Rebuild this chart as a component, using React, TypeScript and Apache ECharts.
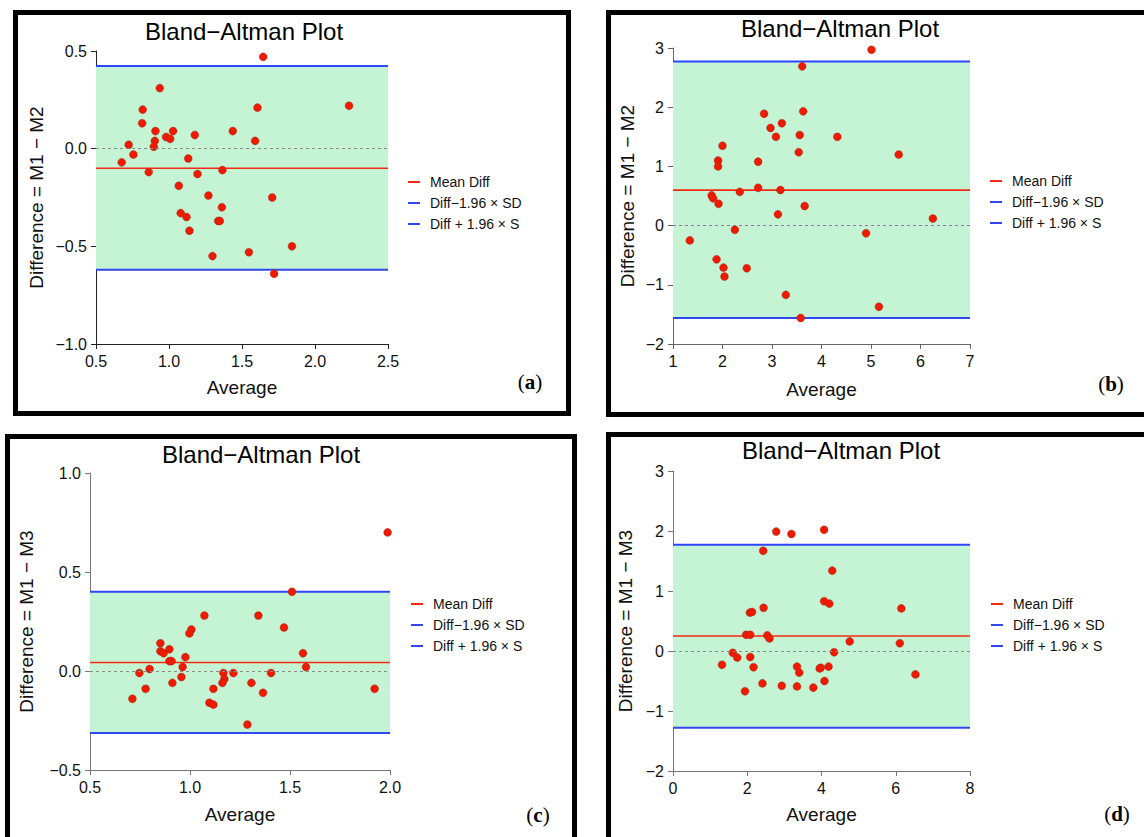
import React, { useEffect, useRef } from "react";
import * as echarts from "echarts";

// ---------- data ----------
const aAverage = [1.645, 0.937, 2.233, 1.606, 0.82, 0.816, 0.907, 1.028, 1.437, 0.98, 1.008, 1.177, 0.903, 1.59, 0.724, 0.896, 0.756, 1.132, 0.676, 0.861, 1.366, 1.195, 1.067, 1.27, 1.707, 1.362, 1.08, 1.12, 1.337, 1.348, 1.14, 1.842, 1.547, 1.298, 1.72];
const aDifference = [0.47, 0.31, 0.22, 0.21, 0.2, 0.13, 0.09, 0.09, 0.09, 0.06, 0.05, 0.07, 0.04, 0.04, 0.02, 0.01, -0.03, -0.05, -0.07, -0.12, -0.11, -0.13, -0.19, -0.24, -0.25, -0.3, -0.33, -0.35, -0.37, -0.37, -0.42, -0.5, -0.53, -0.55, -0.64];

const bAverage = [5.01, 3.61, 3.63, 2.84, 3.2, 2.97, 3.08, 3.56, 4.32, 2.0, 3.54, 5.56, 1.91, 1.91, 2.72, 2.72, 3.17, 2.35, 1.78, 1.81, 1.92, 3.66, 3.12, 6.25, 2.25, 4.9, 1.34, 1.88, 2.02, 2.49, 2.04, 3.28, 5.16, 3.58];
const bDifference = [2.97, 2.69, 1.93, 1.89, 1.73, 1.65, 1.5, 1.53, 1.5, 1.35, 1.24, 1.2, 1.1, 1.0, 1.08, 0.64, 0.6, 0.57, 0.51, 0.46, 0.37, 0.33, 0.19, 0.12, -0.07, -0.13, -0.25, -0.57, -0.71, -0.72, -0.86, -1.17, -1.37, -1.56];

const cAverage = [1.988, 1.51, 1.072, 1.342, 1.47, 1.007, 0.997, 0.852, 0.897, 0.852, 0.868, 1.565, 0.977, 0.897, 0.908, 0.963, 1.58, 0.798, 0.747, 1.167, 1.217, 1.405, 0.957, 1.172, 1.307, 1.162, 0.912, 0.778, 1.117, 1.923, 1.365, 0.712, 1.097, 1.117, 1.287];
const cDifference = [0.7, 0.4, 0.28, 0.28, 0.22, 0.21, 0.19, 0.14, 0.11, 0.1, 0.09, 0.09, 0.07, 0.05, 0.05, 0.02, 0.02, 0.01, -0.01, -0.01, -0.01, -0.01, -0.03, -0.04, -0.06, -0.06, -0.06, -0.09, -0.09, -0.09, -0.11, -0.14, -0.16, -0.17, -0.27];

const dAverage = [2.78, 3.19, 4.07, 2.43, 4.29, 4.07, 4.21, 6.15, 2.44, 2.07, 2.13, 1.97, 2.08, 2.54, 2.6, 4.76, 6.11, 1.61, 4.34, 1.73, 2.08, 1.32, 2.17, 3.34, 3.4, 3.95, 3.98, 4.19, 6.53, 4.08, 2.41, 2.93, 3.34, 3.78, 1.94];
const dDifference = [1.99, 1.95, 2.02, 1.67, 1.34, 0.83, 0.79, 0.71, 0.72, 0.64, 0.65, 0.27, 0.27, 0.26, 0.21, 0.16, 0.13, -0.03, -0.02, -0.11, -0.1, -0.23, -0.27, -0.26, -0.36, -0.29, -0.28, -0.26, -0.39, -0.5, -0.54, -0.58, -0.59, -0.61, -0.67];

const meanDiffs = [-0.1, 0.6, 0.043, 0.25];
const lowerLimits = [-0.62, -1.56, -0.313, -1.28];
const upperLimits = [0.423, 2.77, 0.4, 1.77];

const xMins = [0.5, 1, 0.5, 0];
const xMaxs = [2.5, 7, 2.0, 8];
const xIntervals = [0.5, 1, 0.5, 2];
const yMins = [-1, -2, -0.5, -2];
const yMaxs = [0.5, 3, 1.0, 3];
const yIntervals = [0.5, 1, 0.5, 1];
const xDecimals = [1, 0, 1, 0];
const yDecimals = [1, 0, 1, 0];

const panelLetters = ["a", "b", "c", "d"];
const titleText = "Bland\u2212Altman Plot";
const xAxisName = "Average";
const yAxisNames = [
  "Difference = M1 \u2212 M2",
  "Difference = M1 \u2212 M2",
  "Difference = M1 \u2212 M3",
  "Difference = M1 \u2212 M3",
];
const legendNames = ["Mean Diff", "Diff\u22121.96 \u00d7 SD", "Diff + 1.96 \u00d7 S"];

// ---------- layout ----------
const SANS = "'Liberation Sans', Arial, sans-serif";
const SERIF = "'Liberation Serif', 'Times New Roman', serif";

const grids = [
  { left: 96, top: 51, width: 292, height: 293 },
  { left: 673, top: 48, width: 297, height: 296 },
  { left: 90, top: 473, width: 300, height: 297 },
  { left: 673, top: 471, width: 297, height: 300 },
];
const frames = [
  { x: 15.5, y: 12.5, width: 553, height: 401 },
  { x: 608.5, y: 12.5, width: 600, height: 402 },
  { x: 7.5, y: 436.5, width: 567, height: 500 },
  { x: 608.5, y: 434.5, width: 600, height: 500 },
];
const titlePos = [
  [244, 31],
  [840, 28],
  [261, 454],
  [841, 450],
];
const letterPos = [
  [530, 382],
  [1111, 384],
  [538, 815],
  [1117, 814],
];
const legendPos = [
  [408, 175],
  [990, 174],
  [411, 597],
  [991, 597],
];
const xNameGaps = [34, 36, 35, 34];
const yNameGaps = [50, 36, 54, 38];
const axisColors = ["#222", "#666", "#777", "#777"];
const zeroColors = ["#8a8a8a", "#a070b0", "#8a8a8a", "#8a8a8a"];

const fmt = (v: number, d: number) => (v < 0 ? "\u2212" : "") + Math.abs(v).toFixed(d);

function buildOption() {
  const avgs = [aAverage, bAverage, cAverage, dAverage];
  const diffs = [aDifference, bDifference, cDifference, dDifference];
  const series: any[] = [];
  const xAxis: any[] = [];
  const yAxis: any[] = [];
  const legend: any[] = [];
  const graphic: any[] = [];

  for (let i = 0; i < 4; i++) {
    const xr = [xMins[i], xMaxs[i]];
    xAxis.push({
      type: "value",
      gridIndex: i,
      min: xMins[i],
      max: xMaxs[i],
      interval: xIntervals[i],
      name: xAxisName,
      nameLocation: "middle",
      nameGap: xNameGaps[i],
      nameTextStyle: { fontSize: 19, fontFamily: SANS, color: "#111" },
      axisLine: { onZero: false, lineStyle: { color: axisColors[i], width: 1 } },
      axisTick: { show: true, length: 5, lineStyle: { color: axisColors[i] } },
      axisLabel: {
        fontSize: 16,
        fontFamily: SANS,
        color: "#111",
        margin: 9,
        formatter: (v: number) => fmt(v, xDecimals[i]),
      },
      splitLine: { show: false },
    });
    yAxis.push({
      type: "value",
      gridIndex: i,
      min: yMins[i],
      max: yMaxs[i],
      interval: yIntervals[i],
      name: yAxisNames[i],
      nameLocation: "middle",
      nameRotate: 90,
      nameGap: yNameGaps[i],
      nameTextStyle: { fontSize: 19, fontFamily: SANS, color: "#111" },
      axisLine: { show: true, onZero: false, lineStyle: { color: axisColors[i], width: 1 } },
      axisTick: { show: true, length: 5, lineStyle: { color: axisColors[i] } },
      axisLabel: {
        fontSize: 16,
        fontFamily: SANS,
        color: "#111",
        margin: 9,
        formatter: (v: number) => fmt(v, yDecimals[i]),
      },
      splitLine: { show: false },
    });

    // band + zero line
    series.push({
      type: "line",
      xAxisIndex: i,
      yAxisIndex: i,
      data: [
        [xr[0], meanDiffs[i]],
        [xr[1], meanDiffs[i]],
      ],
      showSymbol: false,
      silent: true,
      lineStyle: { opacity: 0, width: 0 },
      z: 1,
      markArea: {
        silent: true,
        itemStyle: { color: "#c4f4d4" },
        data: [[{ yAxis: lowerLimits[i] }, { yAxis: upperLimits[i] }]],
      },
      markLine: {
        silent: true,
        symbol: ["none", "none"],
        label: { show: false },
        lineStyle: { color: zeroColors[i], type: [3, 3], width: 1 },
        data: [{ yAxis: 0 }],
      },
    });
    const lineVals = [meanDiffs[i], lowerLimits[i], upperLimits[i]];
    const lineCols = ["#f42a10", "#3048ee", "#2f45ff"];
    const lineWidths = [1.6, 2, 2];
    for (let k = 0; k < 3; k++) {
      series.push({
        type: "line",
        name: legendNames[k],
        xAxisIndex: i,
        yAxisIndex: i,
        data: [
          [xr[0], lineVals[k]],
          [xr[1], lineVals[k]],
        ],
        showSymbol: false,
        silent: true,
        color: lineCols[k],
        lineStyle: { color: lineCols[k], width: lineWidths[k] },
        z: 3,
      });
    }
    series.push({
      type: "scatter",
      xAxisIndex: i,
      yAxisIndex: i,
      data: avgs[i].map((x, j) => [x, diffs[i][j]]),
      symbolSize: 8,
      itemStyle: {
        color: "#f01a00",
        opacity: 1,
        borderColor: "rgba(120,50,30,0.55)",
        borderWidth: 0.6,
      },
      z: 4,
    });

    legend.push({
      data: legendNames,
      orient: "vertical",
      left: legendPos[i][0],
      top: legendPos[i][1],
      icon: "path://M0,0H12V2H0ZM17,1L17,1",
      itemWidth: 17,
      itemHeight: 2,
      itemGap: 7,
      padding: 0,
      selectedMode: false,
      itemStyle: { borderWidth: 0 },
      textStyle: { fontSize: 14, fontFamily: SANS, color: "#111" },
    });

    graphic.push({
      type: "rect",
      shape: frames[i],
      style: { fill: "none", stroke: "#000", lineWidth: 5 },
      silent: true,
      z: 100,
    });
    graphic.push({
      type: "text",
      x: titlePos[i][0],
      y: titlePos[i][1],
      style: {
        text: titleText,
        fill: "#000",
        font: `24px ${SANS}`,
        textAlign: "center",
        textVerticalAlign: "middle",
      },
      silent: true,
    });
    graphic.push({
      type: "text",
      x: letterPos[i][0],
      y: letterPos[i][1],
      style: {
        text: `{p|(}{l|${panelLetters[i]}}{p|)}`,
        rich: {
          p: { font: `21px ${SERIF}`, fill: "#000" },
          l: { font: `bold 21px ${SERIF}`, fill: "#000" },
        },
        textAlign: "center",
        textVerticalAlign: "middle",
      },
      silent: true,
    });
  }

  return {
    animation: false,
    backgroundColor: "#fff",
    grid: grids.map((g) => ({ ...g, containLabel: false })),
    xAxis,
    yAxis,
    legend,
    series,
    graphic,
  };
}

export default function App() {
  const ref = useRef<HTMLDivElement | null>(null);
  useEffect(() => {
    if (!ref.current) return;
    const chart = echarts.init(ref.current, undefined, { renderer: "svg" });
    chart.setOption(buildOption() as any);
    return () => chart.dispose();
  }, []);
  return (
    <div
      ref={ref}
      style={{ position: "absolute", left: 0, top: 0, width: 1144, height: 837, background: "#fff" }}
    />
  );
}
